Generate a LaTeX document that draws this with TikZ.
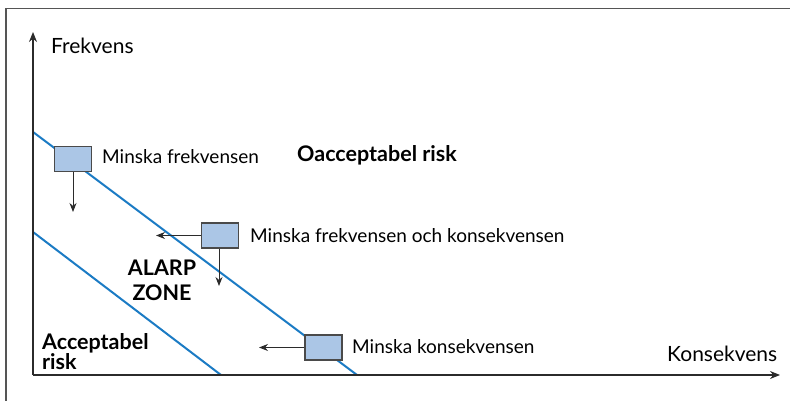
\documentclass[tikz,border=0pt]{standalone}
\usepackage{fontspec}
\setmainfont{Lato}
\usetikzlibrary{arrows.meta}
\definecolor{framegray}{HTML}{555555}
\definecolor{axisgray}{HTML}{2B2B2B}
\definecolor{zoneblue}{HTML}{1B7BC4}
\definecolor{boxfill}{HTML}{ABC6E6}
\definecolor{boxdraw}{HTML}{4A4A4A}
\tikzset{
  frameline/.style={draw=framegray, line width=1.3pt},
  axisline/.style={draw=axisgray, line width=1.2pt, -{Stealth[length=10pt,width=8pt]}},
  zoneline/.style={draw=zoneblue, line width=2pt},
  actbox/.style={draw=boxdraw, fill=boxfill, line width=1.1pt, minimum width=37pt, minimum height=25pt, inner sep=0pt},
  actarrow/.style={draw=axisgray, line width=0.9pt, -{Stealth[length=9pt,width=7pt]}},
  lbl/.style={font=\fontsize{19}{22}\selectfont, anchor=west, inner sep=0pt, text=black},
  axlbl/.style={font=\fontsize{21}{24}\selectfont, anchor=west, inner sep=0pt, text=black},
  blbl/.style={font=\fontsize{21.5}{25}\selectfont\bfseries, inner sep=0pt, text=black},
}
\begin{document}
\begin{tikzpicture}[x=1pt,y=-1pt]
\useasboundingbox (0,0) rectangle (790,401);
% frame
\coordinate (fbl) at (6,402);
\coordinate (ftl) at (6,8.5);
\coordinate (ftr) at (791,8.5);
\draw[frameline] (fbl) -- (ftl) -- (ftr);
% blue zone lines
\coordinate (u1) at (33,132);
\coordinate (u2) at (357,375);
\coordinate (l1) at (33,232);
\coordinate (l2) at (221,375);
\draw[zoneline] (u1) -- (u2);
\draw[zoneline] (l1) -- (l2);
% axes
\coordinate (o) at (33,375);
\coordinate (ytip) at (33,32);
\coordinate (xtip) at (780,375);
\draw[axisline] (o) -- (ytip);
\draw[axisline] (o) -- (xtip);
\node[axlbl] (ylab) at (51,46) {Frekvens};
\node[axlbl] (xlab) at (667,354) {Konsekvens};
% boxes
\node[actbox] (b1) at (73,159) {};
\node[actbox] (b2) at (220,235.5) {};
\node[actbox] (b3) at (323.5,347.5) {};
\coordinate (b1d) at (73,212);
\coordinate (b2l) at (156,235.5);
\coordinate (b2d) at (219,286);
\coordinate (b3l) at (259,347.5);
\draw[actarrow] (b1.south) -- (b1d);
\draw[actarrow] (b2.west) -- (b2l);
\draw[actarrow] (b2.south -| b2d) -- (b2d);
\draw[actarrow] (b3.west) -- (b3l);
% labels
\node[lbl] (t1) at (102,157) {Minska frekvensen};
\node[lbl] (t2) at (250,236) {Minska frekvensen och konsekvensen};
\node[lbl] (t3) at (352,347) {Minska konsekvensen};
\node[blbl, anchor=west] (ur) at (297,155) {Oacceptabel risk};
\node[blbl, align=center] (alarp) at (162,280) {ALARP\\ZONE};
\node[blbl, align=left, anchor=west, font=\fontsize{21.5}{20}\selectfont\bfseries] (acc) at (42,352) {Acceptabel\\risk};
\end{tikzpicture}
\end{document}
